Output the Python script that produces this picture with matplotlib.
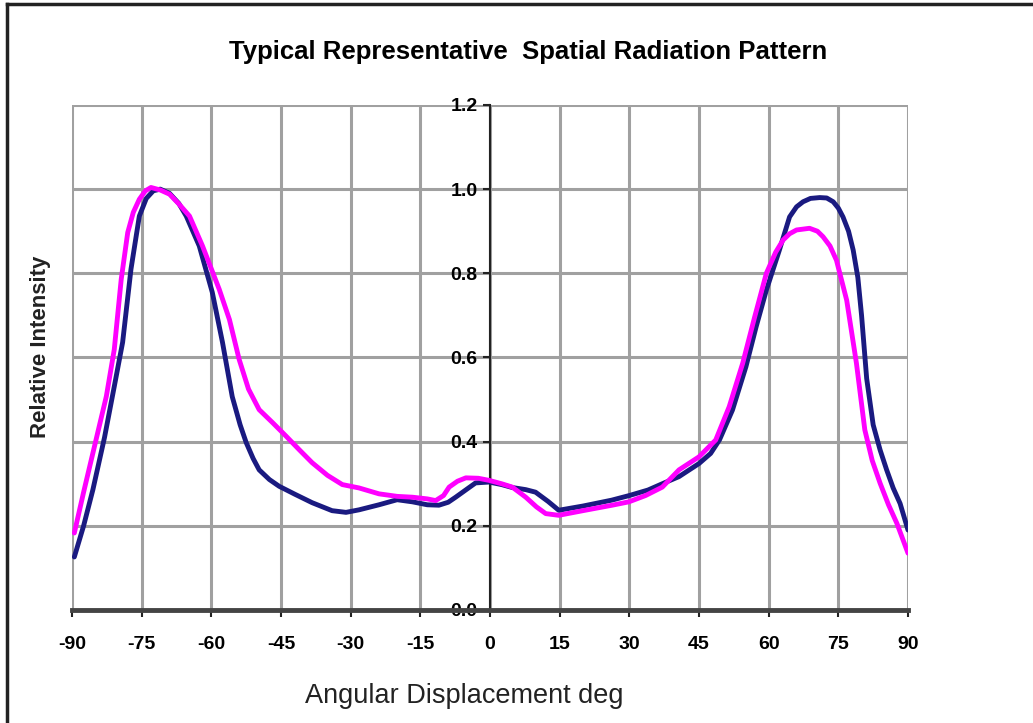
import matplotlib
matplotlib.use('Agg')
import matplotlib.pyplot as plt
from matplotlib.lines import Line2D

chart_title = 'Typical Representative  Spatial Radiation Pattern'
chart_xlabel = 'Angular Displacement deg'
chart_ylabel = 'Relative Intensity'

x_ticks = [-90, -75, -60, -45, -30, -15, 0, 15, 30, 45, 60, 75, 90]
y_ticks = [0.0, 0.2, 0.4, 0.6, 0.8, 1.0, 1.2]

# navy curve
blue_x = [-89.5, -87.5, -85.5, -83.0, -80.9, -79.1, -77.3, -75.5, -74.0, -72.5, -71.0,
          -69.0, -67.0, -65.4, -62.6, -59.8, -57.6, -55.5, -53.8, -52.5, -51.0, -49.7,
          -47.5, -45.4, -42.0, -38.3, -34.0, -31.0, -28.2, -23.9, -20.0, -16.7, -13.5,
          -11.0, -9.0, -7.4, -5.0, -3.1, -0.2, 2.5, 4.8, 7.7, 9.8, 12.5, 14.8, 20.0, 26.2,
          30.0, 34.0, 37.1, 40.7, 45.0, 47.5, 49.4, 52.2, 55.1, 57.3, 59.5, 62.3, 64.5,
          66.0, 67.4, 69.0, 71.0, 72.5, 73.9, 75.0, 76.0, 77.2, 78.2, 79.2, 80.0, 81.1,
          82.5, 84.0, 85.4, 86.8, 88.3, 90.0]
blue_y = [0.126, 0.2, 0.286, 0.41, 0.531, 0.636, 0.81, 0.936, 0.978, 0.996, 1.0,
          0.99, 0.966, 0.936, 0.865, 0.755, 0.636, 0.507, 0.44, 0.398, 0.36, 0.333,
          0.31, 0.294, 0.275, 0.255, 0.236, 0.232, 0.238, 0.25, 0.262, 0.257, 0.25,
          0.249, 0.256, 0.268, 0.287, 0.302, 0.304, 0.298, 0.291, 0.286, 0.28, 0.258, 0.237,
          0.247, 0.261, 0.272, 0.285, 0.30, 0.317, 0.348, 0.372, 0.404, 0.475, 0.578, 0.673,
          0.76, 0.855, 0.934, 0.958, 0.97, 0.978, 0.98, 0.979, 0.97, 0.955, 0.934, 0.9,
          0.855, 0.79, 0.70, 0.55, 0.44, 0.38, 0.333, 0.29, 0.253, 0.19]

# magenta curve
pink_x = [-89.5, -87.5, -85.5, -82.6, -80.9, -79.4, -78.0, -76.8, -75.5, -74.2, -73.0,
          -71.0, -69.0, -67.0, -64.7, -61.9, -58.3, -56.1, -54.0, -52.0, -49.7, -46.8,
          -43.9, -41.0, -38.3, -35.0, -31.8, -28.2, -23.9, -20.0, -16.7, -13.5, -11.7,
          -10.0, -8.8, -7.0, -5.2, -2.5, -0.2, 2.5, 4.8, 7.7, 10.0, 12.0, 14.8, 20.0,
          26.3, 29.9, 33.5, 37.1, 40.7, 45.0, 48.6, 51.5, 54.4, 57.0, 59.5, 61.5, 63.1,
          64.5, 66.0, 68.8, 70.5, 71.7, 73.2, 74.6, 76.8, 78.9, 80.7, 82.3, 84.0, 85.8,
          87.6, 90.0]
pink_y = [0.183, 0.28, 0.373, 0.508, 0.619, 0.786, 0.897, 0.945, 0.976, 0.996, 1.004,
          0.998, 0.988, 0.965, 0.936, 0.865, 0.762, 0.69, 0.595, 0.525, 0.476, 0.445,
          0.413, 0.38, 0.35, 0.32, 0.298, 0.29, 0.276, 0.27, 0.268, 0.264, 0.26,
          0.272, 0.292, 0.306, 0.314, 0.313, 0.308, 0.3, 0.292, 0.268, 0.245, 0.229, 0.225, 0.236,
          0.249, 0.257, 0.272, 0.292, 0.333, 0.364, 0.404, 0.483, 0.586, 0.697, 0.8, 0.85, 0.879,
          0.894, 0.903, 0.907, 0.9, 0.887, 0.865, 0.831, 0.736, 0.586, 0.428, 0.355, 0.301, 0.25,
          0.206, 0.135]

plt.rcParams['font.family'] = ['Liberation Sans', 'DejaVu Sans']

fig = plt.figure(figsize=(10.33, 7.23), dpi=100)
ax = fig.add_axes([0.0697, 0.1563, 0.8093, 0.6985])

ax.set_xlim(-90, 90)
ax.set_ylim(0, 1.2)

ax.grid(True, color='#a0a0a0', linewidth=2.2)
ax.set_axisbelow(True)

ax.spines['top'].set_visible(False)
ax.spines['right'].set_visible(False)
ax.spines['left'].set_position(('data', 0))
ax.spines['bottom'].set_position(('data', 0))
ax.spines['left'].set_color('#222222')
ax.spines['left'].set_linewidth(1.5)
ax.spines['bottom'].set_color('#444444')
ax.spines['bottom'].set_linewidth(3.5)
ax.tick_params(axis='y', direction='out', length=5, width=1.5, color='#222222', pad=4,
               labelsize=14)
ax.tick_params(axis='x', direction='out', length=5, width=1.5, color='#222222', pad=14,
               labelsize=14)

ax.set_xticks(x_ticks)
ax.set_yticks(y_ticks)
ax.set_xticklabels([str(v) for v in x_ticks], fontweight='bold')
ax.set_yticklabels(['%.1f' % v for v in y_ticks], fontweight='bold')

ax.plot(blue_x, blue_y, color='#1a1a80', linewidth=3.5, solid_capstyle='round', zorder=3)
ax.plot(pink_x, pink_y, color='#ff00ff', linewidth=3.5, solid_capstyle='round', zorder=4)

fig.text(0.511, 0.928, chart_title, ha='center', va='center', fontsize=18.5, fontweight='bold')
fig.text(0.449, 0.037, chart_xlabel, ha='center', va='center', fontsize=19.5, color='#222222')
fig.text(0.039, 0.52, chart_ylabel, ha='center', va='center', rotation=90, fontsize=16,
         fontweight='bold', color='#222222')

# outer frame (top and left edges visible)
fig.add_artist(Line2D([0.007, 1.0], [0.994, 0.994], transform=fig.transFigure, color='#222222', linewidth=2.5))
fig.add_artist(Line2D([0.007, 0.007], [0.0, 0.994], transform=fig.transFigure, color='#222222', linewidth=2.5))

fig.savefig('out.png', dpi=100)
